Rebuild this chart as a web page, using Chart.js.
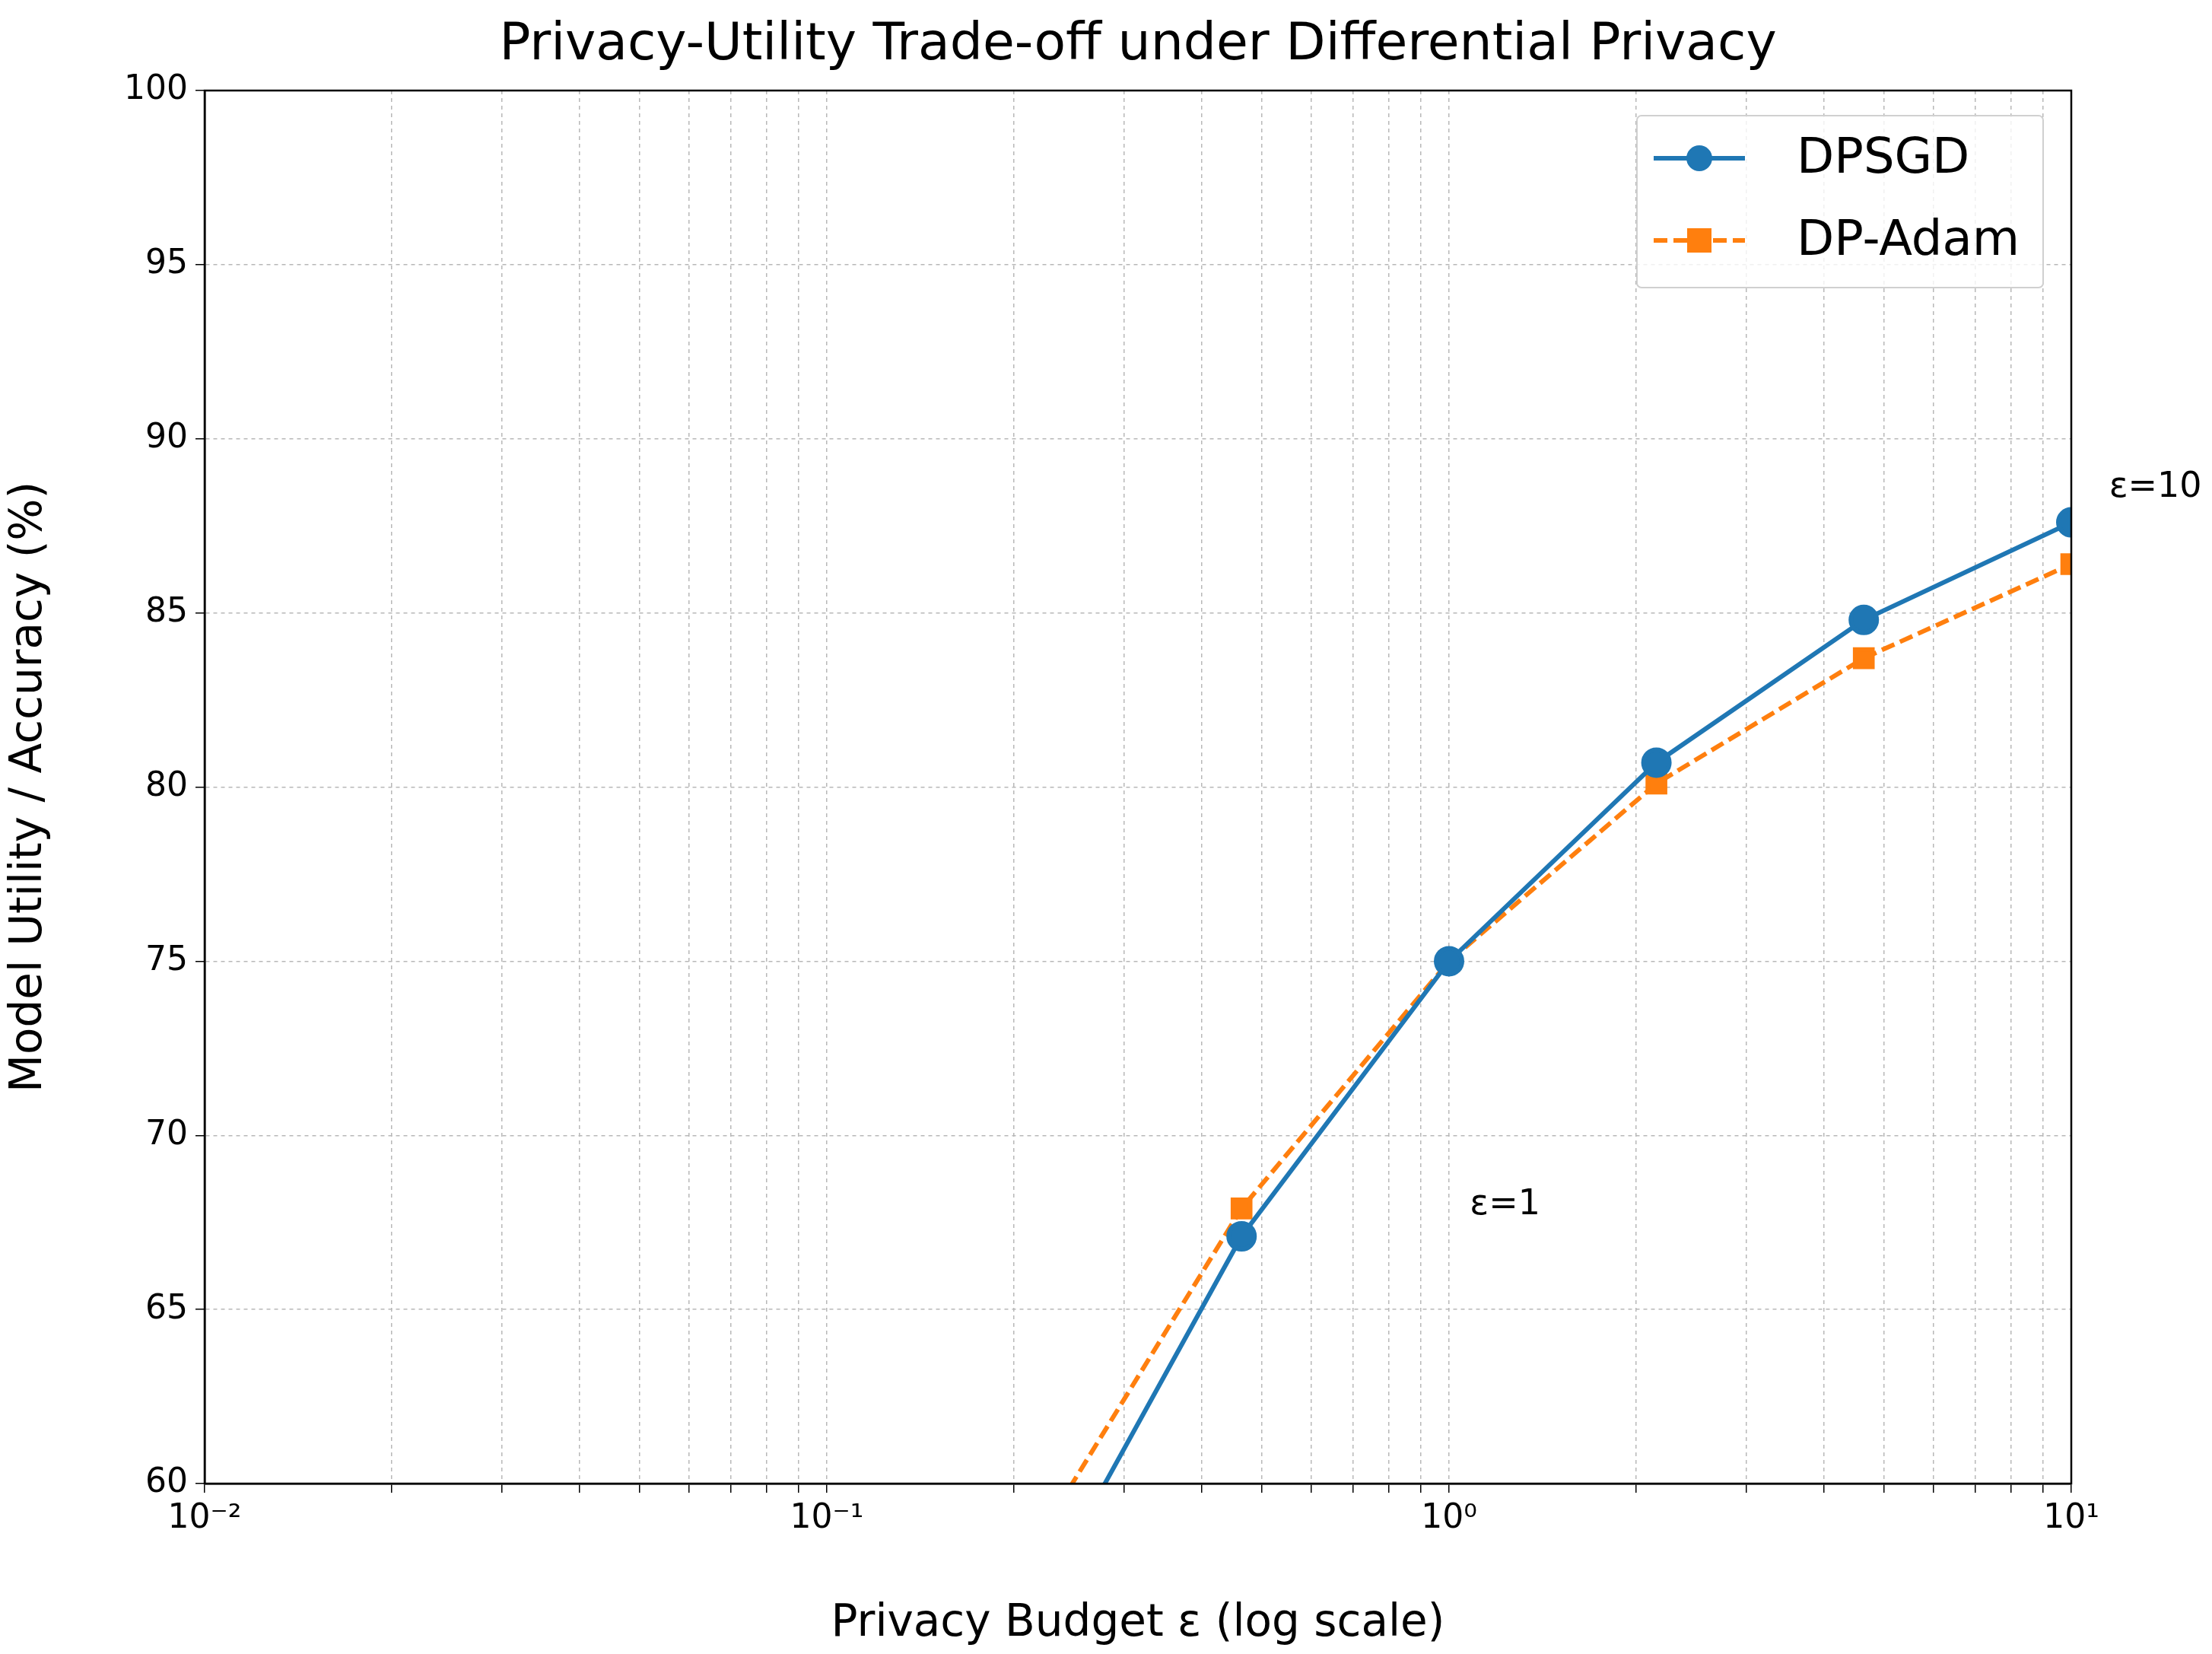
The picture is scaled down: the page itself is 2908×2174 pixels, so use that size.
<!DOCTYPE html>
<html>
<head>
<meta charset="utf-8">
<script src="https://cdn.jsdelivr.net/npm/chart.js@4.4.1/dist/chart.umd.min.js"></script>
<style>
  html, body { margin: 0; padding: 0; background: #fff; }
  #wrap { width: 2908px; height: 2174px; }
</style>
</head>
<body>
<div id="wrap"><canvas id="c"></canvas></div>
<script>
// data (points below 60 are clipped by the axis)
const epsilons = [0.01, 0.0215, 0.0464, 0.1, 0.215, 0.464, 1, 2.154, 4.64, 10];
const dpsgd = [10.5, 21, 33, 45, 56.3, 67.1, 75.0, 80.7, 84.8, 87.6];
const dpAdam = [12, 23, 36, 48, 58.2, 67.9, 75.0, 80.1, 83.7, 86.4];
const yTicks = [60, 65, 70, 75, 80, 85, 90, 95, 100];
const notes = [
  { text: 'ε=1', x: 1.08, y: 68 },
  { text: 'ε=10', x: 11.5, y: 88.6 }
];

const FONT = "'DejaVu Sans', sans-serif";
const BLUE = '#1f77b4';
const ORANGE = '#ff7f0e';
const SUP = { '-': '⁻', '0': '⁰', '1': '¹', '2': '²', '3': '³' };

// title, notes, frame and legend drawn by hand
const extras = {
  id: 'extras',
  afterDraw(chart) {
    const ctx = chart.ctx;
    const { x, y } = chart.scales;
    const a = chart.chartArea;
    ctx.save();
    ctx.strokeStyle = '#000';
    ctx.lineWidth = 2.5;
    ctx.strokeRect(a.left, a.top, a.right - a.left, a.bottom - a.top);

    ctx.fillStyle = '#000';
    ctx.textAlign = 'center';
    ctx.textBaseline = 'middle';
    ctx.font = '68px ' + FONT;
    ctx.fillText('Privacy-Utility Trade-off under Differential Privacy', (a.left + a.right) / 2, 60);

    ctx.font = '46px ' + FONT;
    ctx.textAlign = 'left';
    notes.forEach(n => ctx.fillText(n.text, x.getPixelForValue(n.x), y.getPixelForValue(n.y)));

    // legend box
    const bx = 2152, by = 152, bw = 534, bh = 226;
    ctx.fillStyle = 'rgba(255,255,255,0.8)';
    ctx.strokeStyle = '#d0d0d0';
    ctx.lineWidth = 2;
    ctx.beginPath();
    ctx.roundRect(bx, by, bw, bh, 6);
    ctx.fill();
    ctx.stroke();
    const rows = [
      { label: 'DPSGD', color: BLUE, dash: [], shape: 'circle' },
      { label: 'DP-Adam', color: ORANGE, dash: [18, 8], shape: 'rect' }
    ];
    ctx.font = '64px ' + FONT;
    rows.forEach((r, i) => {
      const cy = by + 56 + i * 108;
      ctx.strokeStyle = r.color;
      ctx.fillStyle = r.color;
      ctx.lineWidth = 6;
      ctx.setLineDash(r.dash);
      ctx.beginPath();
      ctx.moveTo(bx + 22, cy);
      ctx.lineTo(bx + 142, cy);
      ctx.stroke();
      ctx.setLineDash([]);
      if (r.shape === 'circle') {
        ctx.beginPath();
        ctx.arc(bx + 82, cy, 17, 0, Math.PI * 2);
        ctx.fill();
      } else {
        ctx.fillRect(bx + 66, cy - 16, 32, 32);
      }
      ctx.fillStyle = '#000';
      ctx.fillText(r.label, bx + 210, cy + 2);
    });
    ctx.restore();
  }
};

const gridStyle = { color: '#b8b8b8', lineWidth: 1.5, tickLength: 12, tickColor: '#000' };
const borderStyle = { color: '#000', width: 2.5, dash: [5, 5] };

new Chart(document.getElementById('c'), {
  type: 'line',
  data: {
    labels: epsilons,
    datasets: [
      {
        label: 'DPSGD',
        data: epsilons.map((e, i) => ({ x: e, y: dpsgd[i] })),
        borderColor: BLUE, backgroundColor: BLUE,
        borderWidth: 6, pointRadius: 17, pointStyle: 'circle', tension: 0
      },
      {
        label: 'DP-Adam',
        data: epsilons.map((e, i) => ({ x: e, y: dpAdam[i] })),
        borderColor: ORANGE, backgroundColor: ORANGE,
        borderWidth: 6, borderDash: [18, 8], pointRadius: 16, pointStyle: 'rect', tension: 0
      }
    ]
  },
  options: {
    responsive: true,
    maintainAspectRatio: false,
    animation: false,
    devicePixelRatio: 1,
    layout: { padding: { top: 119, right: 185, left: 0, bottom: 0 } },
    plugins: { legend: { display: false }, tooltip: { enabled: false } },
    scales: {
      x: {
        type: 'logarithmic', min: 0.01, max: 10,
        afterBuildTicks(s) {
          const t = [];
          for (let k = -2; k <= 0; k++) for (let m = 1; m <= 9; m++) t.push({ value: m * Math.pow(10, k) });
          t.push({ value: 10 });
          s.ticks = t;
        },
        afterFit(s) { s.height = 2174 - 1950; },
        grid: gridStyle,
        border: borderStyle,
        ticks: {
          autoSkip: false, maxRotation: 0, color: '#000', font: { size: 44, family: FONT }, padding: 8,
          callback(v) {
            const k = Math.log10(v);
            if (Math.abs(k - Math.round(k)) > 1e-6) return '';
            return '10' + String(Math.round(k)).split('').map(c => SUP[c]).join('');
          }
        },
        title: { display: true, text: 'Privacy Budget ε (log scale)', color: '#000', font: { size: 58, family: FONT }, padding: { top: 4 } }
      },
      y: {
        min: 60, max: 100,
        afterBuildTicks(s) { s.ticks = yTicks.map(v => ({ value: v })); },
        afterFit(s) { s.width = 269; },
        grid: gridStyle,
        border: borderStyle,
        ticks: { color: '#000', font: { size: 44, family: FONT }, padding: 10 },
        title: { display: true, text: 'Model Utility / Accuracy (%)', color: '#000', font: { size: 58, family: FONT }, padding: { bottom: 20 } }
      }
    }
  },
  plugins: [extras]
});
</script>
</body>
</html>
